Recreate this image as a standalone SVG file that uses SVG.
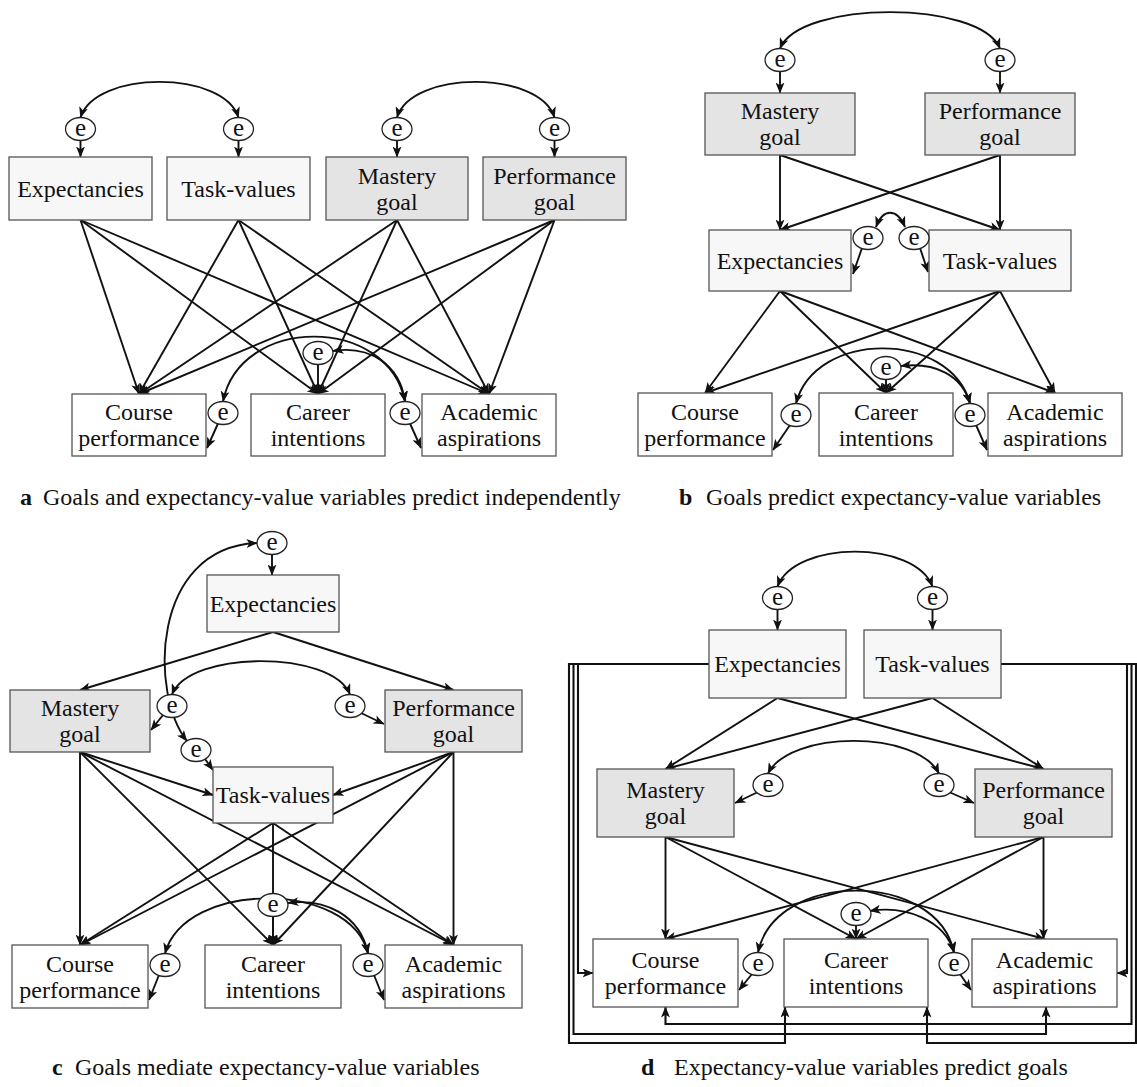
<svg xmlns="http://www.w3.org/2000/svg" width="1137" height="1087" viewBox="0 0 1137 1087">
<defs>
<marker id="ah" viewBox="0 0 11 9" refX="10.5" refY="4.5" markerWidth="11" markerHeight="9" markerUnits="userSpaceOnUse" orient="auto-start-reverse"><path d="M0,0 L11,4.5 L0,9 L2.8,4.5 z" fill="#111"/></marker>
</defs>
<style>
.box{stroke:#555;stroke-width:1.3}
.ev{fill:#f7f7f7}
.goal{fill:#e4e4e4}
.out{fill:#fff}
.err{fill:#fff;stroke:#222;stroke-width:1.3}
text{font-family:"Liberation Serif","Times New Roman",serif;font-size:24px;fill:#111;text-anchor:middle}
.cap{text-anchor:start}
.capl{text-anchor:start;font-weight:bold}
.et{font-size:25px}
.c{fill:none;stroke:#111;stroke-width:1.9;marker-end:url(#ah)}
.d{fill:none;stroke:#111;stroke-width:1.9;marker-start:url(#ah);marker-end:url(#ah)}
.r{fill:none;stroke:#111;stroke-width:2.1;marker-end:url(#ah)}
</style>
<rect width="1137" height="1087" fill="#fff"/>

<!-- ============ PANEL A ============ -->
<g id="panel-a">
<g id="a-connectors">
<path class="c" d="M80.5,140.5V157"/>
<path class="c" d="M238.5,140.5V157"/>
<path class="c" d="M397,140.5V157"/>
<path class="c" d="M554.5,140.5V157"/>
<path class="d" d="M80.5,117.5C95,70 224,70 238.5,117.5"/>
<path class="d" d="M397,117.5C411,70 540,70 554.5,117.5"/>
<path class="c" d="M80.5,220L139,394"/>
<path class="c" d="M80.5,220L318,394"/>
<path class="c" d="M80.5,220L489,394"/>
<path class="c" d="M238.5,220L139,394"/>
<path class="c" d="M238.5,220L318,394"/>
<path class="c" d="M238.5,220L489,394"/>
<path class="c" d="M397,220L139,394"/>
<path class="c" d="M397,220L318,394"/>
<path class="c" d="M397,220L489,394"/>
<path class="c" d="M554.5,220L139,394"/>
<path class="c" d="M554.5,220L318,394"/>
<path class="c" d="M554.5,220L489,394"/>
<path class="c" d="M318,364.5V394"/>
<path class="c" d="M218,423.5L207,448"/>
<path class="c" d="M410,423.5L421,448"/>
<path class="d" d="M223,401.5C240,315 388,315 405,401.5"/>
<path class="d" d="M333,351C370,345 400,365 405,401.5"/>
</g>
<g id="a-e-exp"><ellipse class="err" cx="80.5" cy="129" rx="15" ry="11.5"/><text class="et" x="80.5" y="135.5">e</text></g>
<g id="a-e-tv"><ellipse class="err" cx="238.5" cy="129" rx="15" ry="11.5"/><text class="et" x="238.5" y="135.5">e</text></g>
<g id="a-e-m"><ellipse class="err" cx="397" cy="129" rx="15" ry="11.5"/><text class="et" x="397" y="135.5">e</text></g>
<g id="a-e-p"><ellipse class="err" cx="554.5" cy="129" rx="15" ry="11.5"/><text class="et" x="554.5" y="135.5">e</text></g>
<g id="a-expectancies"><rect class="box ev" x="9" y="157" width="143" height="63"/><text x="80.5" y="196.5">Expectancies</text></g>
<g id="a-taskvalues"><rect class="box ev" x="167" y="157" width="143" height="63"/><text x="238.5" y="196.5">Task-values</text></g>
<g id="a-mastery"><rect class="box goal" x="326" y="157" width="142" height="63"/><text x="397" y="183.5">Mastery</text><text x="397" y="209.5">goal</text></g>
<g id="a-performance"><rect class="box goal" x="483" y="157" width="143" height="63"/><text x="554.5" y="183.5">Performance</text><text x="554.5" y="209.5">goal</text></g>
<g id="a-course"><rect class="box out" x="72" y="394" width="134" height="62"/><text x="139" y="420">Course</text><text x="139" y="446">performance</text></g>
<g id="a-career"><rect class="box out" x="251" y="394" width="134" height="62"/><text x="318" y="420">Career</text><text x="318" y="446">intentions</text></g>
<g id="a-academic"><rect class="box out" x="422" y="394" width="134" height="62"/><text x="489" y="420">Academic</text><text x="489" y="446">aspirations</text></g>
<g id="a-e-course"><ellipse class="err" cx="223" cy="413" rx="15" ry="11.5"/><text class="et" x="223" y="419.5">e</text></g>
<g id="a-e-career"><ellipse class="err" cx="318" cy="353" rx="15" ry="11.5"/><text class="et" x="318" y="359.5">e</text></g>
<g id="a-e-academic"><ellipse class="err" cx="405" cy="413" rx="15" ry="11.5"/><text class="et" x="405" y="419.5">e</text></g>
<g id="a-caption"><text class="capl" x="20" y="505">a</text><text class="cap" x="43" y="505">Goals and expectancy-value variables predict independently</text></g>
</g>

<!-- ============ PANEL B ============ -->
<g id="panel-b">
<g id="b-connectors">
<path class="c" d="M780,71.5V93"/>
<path class="c" d="M1000,71.5V93"/>
<path class="d" d="M780,48.5C800,0 980,0 1000,48.5"/>
<path class="c" d="M780,155V230"/>
<path class="c" d="M780,155L1000,230"/>
<path class="c" d="M1000,155L780,230"/>
<path class="c" d="M1000,155V230"/>
<path class="d" d="M876,227C883,208 897,208 905,227"/>
<path class="c" d="M862,248L853,274"/>
<path class="c" d="M920,248L928,272"/>
<path class="c" d="M780,291L705,393"/>
<path class="c" d="M780,291L886,393"/>
<path class="c" d="M780,291L1055,393"/>
<path class="c" d="M1000,291L705,393"/>
<path class="c" d="M1000,291L886,393"/>
<path class="c" d="M1000,291L1055,393"/>
<path class="c" d="M886,379.5V393"/>
<path class="c" d="M790,425L773,450"/>
<path class="c" d="M976,425L987,450"/>
<path class="d" d="M796,403.5C815,330 950,330 970,403.5"/>
<path class="d" d="M901,366C935,362 962,375 970,403.5"/>
</g>
<g id="b-e-m"><ellipse class="err" cx="780" cy="60" rx="15" ry="11.5"/><text class="et" x="780" y="66.5">e</text></g>
<g id="b-e-p"><ellipse class="err" cx="1000" cy="60" rx="15" ry="11.5"/><text class="et" x="1000" y="66.5">e</text></g>
<g id="b-mastery"><rect class="box goal" x="705" y="93" width="150" height="62"/><text x="780" y="119">Mastery</text><text x="780" y="145">goal</text></g>
<g id="b-performance"><rect class="box goal" x="925" y="93" width="150" height="62"/><text x="1000" y="119">Performance</text><text x="1000" y="145">goal</text></g>
<g id="b-expectancies"><rect class="box ev" x="709" y="230" width="142" height="61"/><text x="780" y="268.5">Expectancies</text></g>
<g id="b-taskvalues"><rect class="box ev" x="929" y="230" width="142" height="61"/><text x="1000" y="268.5">Task-values</text></g>
<g id="b-e-exp"><ellipse class="err" cx="868" cy="238" rx="15" ry="11.5"/><text class="et" x="868" y="244.5">e</text></g>
<g id="b-e-tv"><ellipse class="err" cx="914" cy="238" rx="15" ry="11.5"/><text class="et" x="914" y="244.5">e</text></g>
<g id="b-course"><rect class="box out" x="638" y="393" width="134" height="63"/><text x="705" y="419.5">Course</text><text x="705" y="445.5">performance</text></g>
<g id="b-career"><rect class="box out" x="819" y="393" width="134" height="63"/><text x="886" y="419.5">Career</text><text x="886" y="445.5">intentions</text></g>
<g id="b-academic"><rect class="box out" x="988" y="393" width="134" height="63"/><text x="1055" y="419.5">Academic</text><text x="1055" y="445.5">aspirations</text></g>
<g id="b-e-course"><ellipse class="err" cx="796" cy="415" rx="15" ry="11.5"/><text class="et" x="796" y="421.5">e</text></g>
<g id="b-e-career"><ellipse class="err" cx="886" cy="368" rx="15" ry="11.5"/><text class="et" x="886" y="374.5">e</text></g>
<g id="b-e-academic"><ellipse class="err" cx="970" cy="415" rx="15" ry="11.5"/><text class="et" x="970" y="421.5">e</text></g>
<g id="b-caption"><text class="capl" x="679" y="505">b</text><text class="cap" x="706" y="505">Goals predict expectancy-value variables</text></g>
</g>

<!-- ============ PANEL C ============ -->
<g id="panel-c">
<g id="c-connectors">
<path class="c" d="M272,554.5V575"/>
<path class="c" d="M273,632L80,690"/>
<path class="c" d="M273,632L453.5,690"/>
<path class="d" d="M172,694.5C190,650 332,650 350,694.5"/>
<path class="c" d="M163,715L151,730"/>
<path class="c" d="M361,713L384,724"/>
<path class="d" d="M187,741C150,695 150,548 257,543"/>
<path class="c" d="M205,759L213,770"/>
<path class="c" d="M80,752L213,795"/>
<path class="c" d="M453.5,752L333,795"/>
<path class="c" d="M80,752V945"/>
<path class="c" d="M80,752L273,945"/>
<path class="c" d="M80,752L453.5,945"/>
<path class="c" d="M453.5,752L80,945"/>
<path class="c" d="M453.5,752L273,945"/>
<path class="c" d="M453.5,752V945"/>
<path class="c" d="M273,823L80,945"/>
<path class="c" d="M273,823V945"/>
<path class="c" d="M273,823L453.5,945"/>
<path class="c" d="M273,916.5V945"/>
<path class="c" d="M159,975L149,1000"/>
<path class="c" d="M374,975L384,1000"/>
<path class="d" d="M165,953.5C185,880 350,880 368,953.5"/>
<path class="d" d="M288,903C325,898 360,915 368,953.5"/>
</g>
<g id="c-e-exp"><ellipse class="err" cx="272" cy="543" rx="15" ry="11.5"/><text class="et" x="272" y="549.5">e</text></g>
<g id="c-expectancies"><rect class="box ev" x="207" y="575" width="132" height="57"/><text x="273" y="611.5">Expectancies</text></g>
<g id="c-mastery"><rect class="box goal" x="10" y="690" width="140" height="62"/><text x="80" y="716">Mastery</text><text x="80" y="742">goal</text></g>
<g id="c-performance"><rect class="box goal" x="385" y="690" width="137" height="62"/><text x="453.5" y="716">Performance</text><text x="453.5" y="742">goal</text></g>
<g id="c-e-m"><ellipse class="err" cx="172" cy="706" rx="15" ry="11.5"/><text class="et" x="172" y="712.5">e</text></g>
<g id="c-e-p"><ellipse class="err" cx="350" cy="706" rx="15" ry="11.5"/><text class="et" x="350" y="712.5">e</text></g>
<g id="c-e-tv"><ellipse class="err" cx="196" cy="750" rx="15" ry="11.5"/><text class="et" x="196" y="756.5">e</text></g>
<g id="c-taskvalues"><rect class="box ev" x="213" y="767" width="120" height="56"/><text x="273" y="803">Task-values</text></g>
<g id="c-course"><rect class="box out" x="12" y="945" width="136" height="63"/><text x="80" y="971.5">Course</text><text x="80" y="997.5">performance</text></g>
<g id="c-career"><rect class="box out" x="205" y="945" width="136" height="63"/><text x="273" y="971.5">Career</text><text x="273" y="997.5">intentions</text></g>
<g id="c-academic"><rect class="box out" x="385" y="945" width="137" height="63"/><text x="453.5" y="971.5">Academic</text><text x="453.5" y="997.5">aspirations</text></g>
<g id="c-e-course"><ellipse class="err" cx="165" cy="965" rx="15" ry="11.5"/><text class="et" x="165" y="971.5">e</text></g>
<g id="c-e-career"><ellipse class="err" cx="273" cy="905" rx="15" ry="11.5"/><text class="et" x="273" y="911.5">e</text></g>
<g id="c-e-academic"><ellipse class="err" cx="368" cy="965" rx="15" ry="11.5"/><text class="et" x="368" y="971.5">e</text></g>
<g id="c-caption"><text class="capl" x="52" y="1075">c</text><text class="cap" x="75" y="1075">Goals mediate expectancy-value variables</text></g>
</g>

<!-- ============ PANEL D ============ -->
<g id="panel-d">
<g id="d-connectors">
<path class="c" d="M777.5,609.5V630"/>
<path class="c" d="M932.5,609.5V630"/>
<path class="d" d="M777.5,586.5C795,540 915,540 932.5,586.5"/>
<path class="c" d="M777.5,698L665.5,769"/>
<path class="c" d="M777.5,698L1043.5,769"/>
<path class="c" d="M932.5,698L665.5,769"/>
<path class="c" d="M932.5,698L1043.5,769"/>
<path class="d" d="M768,773.5C790,730 917,730 939,773.5"/>
<path class="c" d="M758,792L735,803"/>
<path class="c" d="M949,792L974,803"/>
<path class="c" d="M665.5,837V939"/>
<path class="c" d="M665.5,837L856,939"/>
<path class="c" d="M665.5,837L1044.5,939"/>
<path class="c" d="M1043.5,837L665.5,939"/>
<path class="c" d="M1043.5,837L856,939"/>
<path class="c" d="M1043.5,837V939"/>
<path class="c" d="M856,925.5V939"/>
<path class="c" d="M752,974L739,990"/>
<path class="c" d="M960,974L971,990"/>
<path class="d" d="M758,952.5C775,870 937,870 954,952.5"/>
<path class="d" d="M870,911C905,905 945,920 954,952.5"/>
<path class="r" d="M709,664H578V973H593"/>
<path class="r" d="M709,664H569V1043H785V1007"/>
<path class="r" d="M709,664H573.5V1034H1046V1007"/>
<path class="r" d="M1001,664H1127V973H1117"/>
<path class="r" d="M1001,664H1136V1043H927V1007"/>
<path class="r" d="M1001,664H1131.5V1024H665.5V1007"/>
</g>
<g id="d-e-exp"><ellipse class="err" cx="777.5" cy="598" rx="15" ry="11.5"/><text class="et" x="777.5" y="604.5">e</text></g>
<g id="d-e-tv"><ellipse class="err" cx="932.5" cy="598" rx="15" ry="11.5"/><text class="et" x="932.5" y="604.5">e</text></g>
<g id="d-expectancies"><rect class="box ev" x="709" y="630" width="137" height="68"/><text x="777.5" y="672">Expectancies</text></g>
<g id="d-taskvalues"><rect class="box ev" x="864" y="630" width="137" height="68"/><text x="932.5" y="672">Task-values</text></g>
<g id="d-mastery"><rect class="box goal" x="597" y="769" width="137" height="68"/><text x="665.5" y="798">Mastery</text><text x="665.5" y="824">goal</text></g>
<g id="d-performance"><rect class="box goal" x="975" y="769" width="137" height="68"/><text x="1043.5" y="798">Performance</text><text x="1043.5" y="824">goal</text></g>
<g id="d-e-m"><ellipse class="err" cx="768" cy="785" rx="15" ry="11.5"/><text class="et" x="768" y="791.5">e</text></g>
<g id="d-e-p"><ellipse class="err" cx="939" cy="785" rx="15" ry="11.5"/><text class="et" x="939" y="791.5">e</text></g>
<g id="d-course"><rect class="box out" x="593" y="939" width="145" height="68"/><text x="665.5" y="968">Course</text><text x="665.5" y="994">performance</text></g>
<g id="d-career"><rect class="box out" x="784" y="939" width="144" height="68"/><text x="856" y="968">Career</text><text x="856" y="994">intentions</text></g>
<g id="d-academic"><rect class="box out" x="972" y="939" width="145" height="68"/><text x="1044.5" y="968">Academic</text><text x="1044.5" y="994">aspirations</text></g>
<g id="d-e-course"><ellipse class="err" cx="758" cy="964" rx="15" ry="11.5"/><text class="et" x="758" y="970.5">e</text></g>
<g id="d-e-career"><ellipse class="err" cx="856" cy="914" rx="15" ry="11.5"/><text class="et" x="856" y="920.5">e</text></g>
<g id="d-e-academic"><ellipse class="err" cx="954" cy="964" rx="15" ry="11.5"/><text class="et" x="954" y="970.5">e</text></g>
<g id="d-caption"><text class="capl" x="641" y="1075">d</text><text class="cap" x="674" y="1075">Expectancy-value variables predict goals</text></g>
</g>
</svg>
